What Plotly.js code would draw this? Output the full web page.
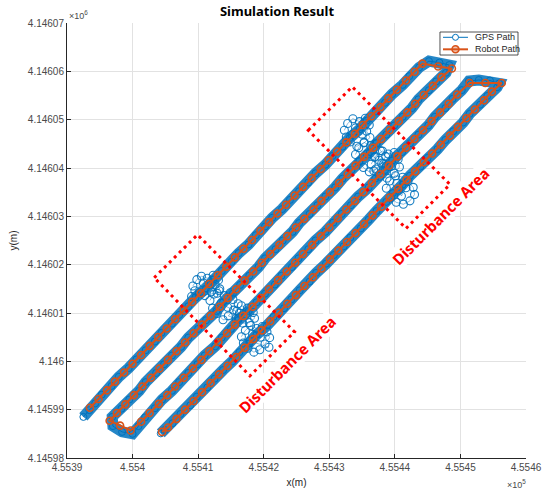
<!DOCTYPE html>
<html>
<head>
<meta charset="utf-8">
<script src="https://cdn.plot.ly/plotly-3.0.1.min.js"></script>
<style>
  html, body { margin: 0; padding: 0; background: #ffffff; }
  #chart { width: 554px; height: 491px; }
</style>
</head>
<body>
<div id="chart"></div>
<script>
// ---------- data (metres, easting / northing) ----------
const robotX = [
  455393.5,455394.8,455396.1,455397.3,455398.7,455400.0,455401.3,455402.6,455403.9,455405.2,
  455406.5,455407.8,455409.1,455410.4,455411.7,455413.0,455414.3,455415.6,455416.9,455418.2,
  455419.5,455420.8,455422.1,455423.4,455424.7,455426.0,455427.3,455428.7,455429.9,455431.2,
  455432.6,455433.9,455435.1,455436.4,455437.8,455439.0,455440.3,455441.7,455443.0,455444.2,
  455446.6,455448.7,
  455447.1,455445.8,455444.4,455443.1,455441.9,455440.6,455439.2,455437.9,455436.7,455435.3,
  455434.0,455432.8,455431.5,455430.1,455428.8,455427.6,455426.2,455424.9,455423.6,455422.4,
  455421.0,455419.7,455418.4,455417.1,455415.8,455414.5,455413.3,455411.9,455410.6,455409.3,
  455408.0,455406.7,455405.4,455404.1,455402.8,455401.5,455400.2,455398.9,455397.6,455396.5,
  455398.1,455399.7,
  455401.3,455402.6,455404.0,455405.3,455406.5,455407.8,455409.2,455410.5,455411.7,455413.1,
  455414.4,455415.6,455416.9,455418.3,455419.6,455420.8,455422.2,455423.5,455424.8,455426.0,
  455427.4,455428.7,455430.0,455431.3,455432.6,455433.9,455435.2,455436.5,455437.8,455439.1,
  455440.4,455441.7,455443.0,455444.3,455445.6,455446.9,455448.2,455449.5,455451.4,
  455453.8,455456.3,
  455454.8,455453.6,455452.2,455450.9,455449.6,455448.4,455447.0,455445.7,455444.4,455443.1,
  455441.8,455440.5,455439.2,455437.9,455436.6,455435.3,455434.0,455432.7,455431.4,455430.1,
  455428.8,455427.5,455426.2,455424.9,455423.6,455422.3,455421.0,455419.7,455418.4,455417.1,
  455415.8,455414.5,455413.2,455411.9,455410.6,455409.3,455408.0,455406.7,455405.4,455404.5
];
const robotY = [
  4145990.4,4145992.2,4145994.0,4145995.8,4145997.7,4145999.5,4146001.3,4146003.2,4146005.0,4146006.8,
  4146008.7,4146010.5,4146012.3,4146014.1,4146016.0,4146017.8,4146019.6,4146021.5,4146023.3,4146025.1,
  4146027.0,4146028.8,4146030.6,4146032.4,4146034.3,4146036.1,4146037.9,4146039.8,4146041.6,4146043.4,
  4146045.3,4146047.1,4146048.9,4146050.7,4146052.6,4146054.4,4146056.2,4146058.1,4146059.9,4146061.6,
  4146061.0,4146060.6,
  4146058.8,4146057.0,4146055.1,4146053.3,4146051.5,4146049.7,4146047.8,4146046.0,4146044.2,4146042.3,
  4146040.5,4146038.7,4146036.9,4146035.0,4146033.2,4146031.4,4146029.5,4146027.7,4146025.9,4146024.1,
  4146022.2,4146020.4,4146018.6,4146016.7,4146014.9,4146013.1,4146011.3,4146009.4,4146007.6,4146005.8,
  4146003.9,4146002.1,4146000.3,4145998.5,4145996.6,4145994.8,4145993.0,4145991.1,4145989.3,4145987.7,
  4145986.7,4145985.7,
  4145987.5,4145989.3,4145991.2,4145993.0,4145994.8,4145996.6,4145998.5,4146000.3,4146002.1,4146004.0,
  4146005.8,4146007.6,4146009.4,4146011.3,4146013.1,4146014.9,4146016.8,4146018.6,4146020.4,4146022.2,
  4146024.1,4146025.9,4146027.7,4146029.6,4146031.4,4146033.2,4146035.0,4146036.9,4146038.7,4146040.5,
  4146042.4,4146044.2,4146046.0,4146047.8,4146049.7,4146051.5,4146053.3,4146055.2,4146057.6,
  4146057.6,4146057.6,
  4146055.8,4146054.0,4146052.1,4146050.3,4146048.5,4146046.7,4146044.8,4146043.0,4146041.2,4146039.3,
  4146037.5,4146035.7,4146033.9,4146032.0,4146030.2,4146028.4,4146026.5,4146024.7,4146022.9,4146021.1,
  4146019.2,4146017.4,4146015.6,4146013.7,4146011.9,4146010.1,4146008.3,4146006.4,4146004.6,4146002.8,
  4146000.9,4145999.1,4145997.3,4145995.5,4145993.6,4145991.8,4145990.0,4145988.1,4145986.3,4145985.4
];

const gpsX = [
  455392.5,455393.4,455394.3,455395.3,455396.8,455397.9,455399.4,455400.6,455402.0,455403.4,
  455404.4,455406.0,455407.1,455408.5,455409.6,455411.2,455412.3,455413.6,455415.1,455416.2,
  455417.7,455418.8,455420.2,455421.3,455422.8,455424.0,455425.4,455426.8,455427.9,455429.4,
  455430.5,455432.0,455433.1,455434.6,455435.7,455437.1,455438.5,455439.6,455441.2,455442.2,
  455443.7,455445.2,455446.8,455448.3,
  455447.8,455446.3,455445.2,455443.6,455442.6,455441.2,455439.9,455438.7,455437.2,455436.2,
  455434.6,455433.4,455432.0,455430.9,455429.4,455428.2,455427.0,455425.4,455424.4,455422.9,
  455421.8,455420.2,455419.2,455417.8,455416.4,455415.3,455413.8,455412.8,455411.2,455410.0,
  455408.5,455407.4,455406.0,455404.8,455403.6,455402.0,455401.0,455399.5,455398.3,455396.9,
  455397.0,455398.4,455400.0,
  455400.9,455401.9,455403.4,455404.5,455406.0,455407.1,455408.5,455409.9,455411.0,455412.6,
  455413.6,455415.0,455416.1,455417.7,455418.9,455420.2,455421.7,455422.7,455424.3,455425.3,
  455426.8,455427.9,455429.4,455430.6,455431.9,455433.3,455434.4,455436.0,455437.0,455438.5,
  455439.6,455441.1,455442.3,455443.6,455445.1,455446.1,455447.7,455448.8,455450.2,455451.3,
  455452.8,455454.5,455455.9,
  455455.6,455454.1,455453.0,455451.4,455450.4,455448.9,455447.7,455446.5,455445.0,455443.9,
  455442.3,455441.2,455439.7,455438.7,455437.2,455436.0,455434.8,455433.2,455432.2,455430.7,
  455429.5,455428.0,455427.0,455425.5,455424.2,455423.1,455421.5,455420.5,455418.9,455417.8,
  455416.3,455415.2,455413.8,455412.5,455411.4,455409.8,455408.8,455407.3,455406.1,455404.9,
  455404.3
];
const gpsY = [
  4145988.5,4145989.9,4145991.3,4145993.1,4145994.9,4145996.8,4145998.6,4146000.4,4146002.3,4146004.1,
  4146005.9,4146007.8,4146009.6,4146011.4,4146013.2,4146015.1,4146016.9,4146018.7,4146020.6,4146022.4,
  4146024.2,4146026.1,4146027.9,4146029.7,4146031.5,4146033.4,4146035.2,4146037.0,4146038.9,4146040.7,
  4146042.5,4146044.4,4146046.2,4146048.0,4146049.8,4146051.7,4146053.5,4146055.3,4146057.2,4146059.0,
  4146060.8,4146062.1,4146061.8,4146061.3,
  4146059.7,4146057.9,4146056.1,4146054.2,4146052.4,4146050.6,4146048.8,4146046.9,4146045.1,4146043.3,
  4146041.4,4146039.6,4146037.8,4146036.0,4146034.1,4146032.3,4146030.5,4146028.6,4146026.8,4146025.0,
  4146023.2,4146021.3,4146019.5,4146017.7,4146015.8,4146014.0,4146012.2,4146010.4,4146008.5,4146006.7,
  4146004.9,4146003.0,4146001.2,4145999.4,4145997.6,4145995.7,4145993.9,4145992.1,4145990.2,4145988.5,
  4145986.6,4145985.4,4145985.0,
  4145986.6,4145988.4,4145990.3,4145992.1,4145993.9,4145995.7,4145997.6,4145999.4,4146001.2,4146003.1,
  4146004.9,4146006.7,4146008.5,4146010.4,4146012.2,4146014.0,4146015.9,4146017.7,4146019.5,4146021.3,
  4146023.2,4146025.0,4146026.8,4146028.7,4146030.5,4146032.3,4146034.1,4146036.0,4146037.8,4146039.6,
  4146041.5,4146043.3,4146045.1,4146046.9,4146048.8,4146050.6,4146052.4,4146054.3,4146056.1,4146058.0,
  4146058.2,4146058.1,4146057.5,
  4146056.7,4146054.9,4146053.1,4146051.2,4146049.4,4146047.6,4146045.8,4146043.9,4146042.1,4146040.3,
  4146038.4,4146036.6,4146034.8,4146033.0,4146031.1,4146029.3,4146027.5,4146025.6,4146023.8,4146022.0,
  4146020.2,4146018.3,4146016.5,4146014.7,4146012.8,4146011.0,4146009.2,4146007.4,4146005.5,4146003.7,
  4146001.9,4146000.0,4145998.2,4145996.4,4145994.6,4145992.7,4145990.9,4145989.1,4145987.2,4145985.8,
  4145985.1
];

// GPS fixes scattered inside the two disturbance areas (null separates the bursts)
const noiseX = [
  455409.2,455409.8,455410.5,455411.4,455412.3,455413.1,455412.6,455413.3,455412.0,455411.0,455410.2,455409.5,455410.8,455411.8,455412.9,455409.0,null,
  455411.8,455412.4,455413.2,455414.0,455414.9,455415.3,455416.1,455415.4,455414.6,455415.8,455413.8,455412.9,455412.2,455413.5,455414.5,455416.3,null,
  455415.9,455416.6,455417.5,455418.4,455418.6,455417.8,455416.8,455416.2,455417.3,null,
  455416.6,455417.2,455418.0,455418.9,455419.8,455420.5,455420.9,455420.2,455419.4,455418.5,455417.6,455416.9,455418.3,455419.5,455417.9,455420.8,null,
  455432.3,455432.8,455433.6,455434.6,455435.5,455436.1,455435.7,455436.2,455435.3,455434.2,455433.2,455432.6,455434.0,455435.0,455433.5,null,
  455434.0,455434.5,455435.3,455436.3,455437.2,455437.8,455438.6,455438.0,455437.1,455436.1,455435.2,455434.5,455435.8,455436.9,455438.7,null,
  455436.4,455437.0,455438.1,455439.0,455439.9,455440.5,455440.7,455439.9,455438.8,455437.7,455436.8,455438.3,455439.4,455437.6,null,
  455438.7,455439.2,455440.1,455441.2,455442.0,455442.8,455443.0,455442.3,455441.3,455440.2,455439.3,455440.6,455441.7,455441.0,455440.3
];
const noiseY = [
  4146015.6,4146016.9,4146017.6,4146017.2,4146017.8,4146016.8,4146015.9,4146015.0,4146014.4,4146013.6,4146014.2,4146014.6,4146016.2,4146016.0,4146014.1,4146013.4,null,
  4146012.6,4146013.9,4146014.6,4146013.6,4146014.2,4146012.8,4146011.9,4146010.6,4146009.4,4146008.8,4146008.6,4146009.9,4146011.0,4146012.0,4146011.2,4146010.0,null,
  4146010.4,4146011.5,4146011.0,4146010.1,4146008.9,4146008.0,4146007.9,4146009.0,4146009.8,null,
  4146005.1,4146006.4,4146007.4,4146006.8,4146007.2,4146006.1,4146004.9,4146003.6,4146002.4,4146001.9,4146002.7,4146003.8,4146005.6,4146005.0,4146004.2,4146002.9,null,
  4146047.8,4146049.2,4146050.2,4146049.6,4146050.3,4146048.9,4146047.6,4146046.3,4146045.2,4146044.5,4146045.4,4146046.4,4146048.3,4146047.0,4146046.9,null,
  4146042.8,4146044.2,4146045.3,4146044.6,4146045.1,4146043.6,4146042.4,4146041.0,4146039.8,4146039.2,4146040.1,4146041.3,4146042.9,4146042.2,4146040.4,null,
  4146040.8,4146042.4,4146043.5,4146042.9,4146043.2,4146041.8,4146040.2,4146038.9,4146037.9,4146038.3,4146039.4,4146040.9,4146040.3,4146041.6,null,
  4146035.8,4146037.3,4146038.4,4146038.1,4146037.2,4146036.0,4146034.5,4146033.2,4146032.5,4146032.9,4146033.9,4146035.4,4146035.9,4146034.2,4146036.8
];

const xTickVals = [455390,455400,455410,455420,455430,455440,455450,455460];
const xTickText = ['4.5539','4.554','4.5541','4.5542','4.5543','4.5544','4.5545','4.5546'];
const yTickVals = [4145980,4145990,4146000,4146010,4146020,4146030,4146040,4146050,4146060,4146070];
const yTickText = ['4.14598','4.14599','4.146','4.14601','4.14602','4.14603','4.14604','4.14605','4.14606','4.14607'];

const seriesNames = ['GPS Path','Robot Path'];
const areaLabel = 'Disturbance Area';

// ---------- decoration geometry ----------
const zones = [
  {corners: [[455403.3,4146017.3],[455409.9,4146026.2],[455424.7,4146006.1],[455417.9,4145997.0]],
   label: [455423.6,4145999.5]},
  {corners: [[455426.8,4146047.8],[455433.5,4146056.8],[455448.4,4146036.6],[455441.7,4146027.5]],
   label: [455447.0,4146030.0]}
];
// legend box (paper fractions of the plot area)
const legendBox = {x0: 0.8126, x1: 0.9826, y0: 0.9264, y1: 0.9793,
                   lineX0: 0.8192, lineX1: 0.8736, markX: 0.8464, textX: 0.8845,
                   rowY: [0.9671, 0.9395]};

const BLUE = '#0072BD';
const ORANGE = '#D95319';
const AXIS = '#262626';
const TICKC = '#4a4a4a';
const GRID = '#e2e2e2';
const SANS = 'Liberation Sans, Arial, sans-serif';

const traces = [
  { // dense band formed by the GPS fixes
    x: gpsX, y: gpsY, mode: 'lines', showlegend: false, hoverinfo: 'skip',
    line: {color: 'rgba(0,114,189,0.85)', width: 11}
  },
  {
    x: gpsX, y: gpsY, name: seriesNames[0], mode: 'lines+markers', showlegend: false,
    line: {color: BLUE, width: 1},
    marker: {symbol: 'circle-open', size: 7, color: BLUE, line: {width: 1, color: BLUE}}
  },
  {
    x: noiseX, y: noiseY, mode: 'lines+markers', showlegend: false, connectgaps: false,
    line: {color: 'rgba(0,114,189,0.6)', width: 0.8},
    marker: {symbol: 'circle-open', size: 8, color: BLUE, opacity: 0.9, line: {width: 1.1, color: BLUE}}
  },
  {
    x: robotX, y: robotY, name: seriesNames[1], mode: 'lines+markers', showlegend: false,
    line: {color: ORANGE, width: 2},
    marker: {symbol: 'circle-open', size: 7, color: ORANGE, line: {width: 1.6, color: ORANGE}}
  }
];

const shapes = zones.map(z => ({
  type: 'path', xref: 'x', yref: 'y',
  path: 'M ' + z.corners.map(c => c[0] + ',' + c[1]).join(' L ') + ' Z',
  line: {color: '#ff0000', width: 3, dash: '3px,4px'}
}));

// legend frame and samples
const lb = legendBox;
shapes.push(
  {type: 'rect', xref: 'paper', yref: 'paper', x0: lb.x0, x1: lb.x1, y0: lb.y0, y1: lb.y1,
   fillcolor: '#ffffff', line: {color: AXIS, width: 0.8}},
  {type: 'line', xref: 'paper', yref: 'paper', x0: lb.lineX0, x1: lb.lineX1, y0: lb.rowY[0], y1: lb.rowY[0],
   line: {color: BLUE, width: 1}},
  {type: 'circle', xref: 'paper', yref: 'paper', xsizemode: 'pixel', ysizemode: 'pixel',
   xanchor: lb.markX, yanchor: lb.rowY[0], x0: -3, x1: 3, y0: -3, y1: 3,
   fillcolor: '#ffffff', line: {color: BLUE, width: 1}},
  {type: 'line', xref: 'paper', yref: 'paper', x0: lb.lineX0, x1: lb.lineX1, y0: lb.rowY[1], y1: lb.rowY[1],
   line: {color: ORANGE, width: 2}},
  {type: 'circle', xref: 'paper', yref: 'paper', xsizemode: 'pixel', ysizemode: 'pixel',
   xanchor: lb.markX, yanchor: lb.rowY[1], x0: -3.5, x1: 3.5, y0: -3.5, y1: 3.5,
   fillcolor: 'rgba(217,83,25,0.35)', line: {color: ORANGE, width: 1.6}}
);

const annotations = zones.map(z => ({
  x: z.label[0], y: z.label[1], xref: 'x', yref: 'y',
  text: '<b>' + areaLabel + '</b>', showarrow: false, textangle: -45,
  font: {family: 'Noto Sans, sans-serif', size: 15, color: '#ff0000'},
  bgcolor: '#ffffff', borderpad: 0
}));
seriesNames.forEach((nm, i) => annotations.push({
  xref: 'paper', yref: 'paper', x: lb.textX, y: lb.rowY[i], xanchor: 'left', yanchor: 'middle',
  text: nm, showarrow: false, font: {family: SANS, size: 9, color: AXIS}
}));
annotations.push(
  {xref: 'paper', yref: 'paper', x: 0, y: 1.018, xanchor: 'left', yanchor: 'middle',
   text: '×10<sup>6</sup>', showarrow: false, font: {family: SANS, size: 9, color: TICKC}},
  {xref: 'paper', yref: 'paper', x: 1.004, y: -0.06, xanchor: 'right', yanchor: 'middle',
   text: '×10<sup>5</sup>', showarrow: false, font: {family: SANS, size: 9, color: TICKC}}
);

const axisCommon = {
  showgrid: true, gridcolor: GRID, gridwidth: 1, zeroline: false,
  showline: true, linecolor: AXIS, linewidth: 1, mirror: false,
  ticks: 'inside', ticklen: 4, tickcolor: AXIS, tickwidth: 1,
  tickmode: 'array', tickfont: {family: SANS, size: 10, color: TICKC},
  fixedrange: true
};

const layout = {
  width: 554, height: 491,
  paper_bgcolor: '#ffffff', plot_bgcolor: '#ffffff',
  margin: {l: 67, r: 28, t: 23, b: 33, pad: 0},
  title: {text: '<b>Simulation Result</b>', xref: 'container', x: 0.5, xanchor: 'center',
          yref: 'container', y: 0.976, yanchor: 'middle',
          font: {family: 'Noto Sans, sans-serif', size: 13, color: '#000000'}},
  xaxis: Object.assign({}, axisCommon, {
    range: [455390, 455460], tickvals: xTickVals, ticktext: xTickText,
    title: {text: 'x(m)', font: {family: SANS, size: 10, color: AXIS}, standoff: 6}
  }),
  yaxis: Object.assign({}, axisCommon, {
    range: [4145980, 4146070], tickvals: yTickVals, ticktext: yTickText,
    title: {text: 'y(m)', font: {family: SANS, size: 10, color: AXIS}, standoff: 8}
  }),
  shapes: shapes,
  annotations: annotations,
  showlegend: false
};

Plotly.newPlot('chart', traces, layout, {displayModeBar: false, staticPlot: true});
</script>
</body>
</html>
